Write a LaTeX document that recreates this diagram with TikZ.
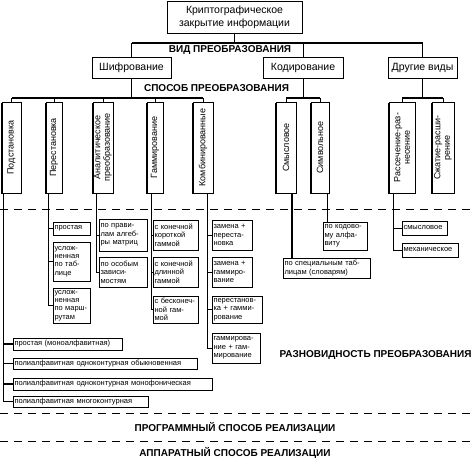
\documentclass[tikz,border=0pt]{standalone}
\usepackage{fontspec}
\setmainfont{Liberation Sans}
\usetikzlibrary{shadows}

\begin{document}
\begin{tikzpicture}[x=1pt,y=-1pt,
  box/.style={draw,fill=white,line width=.7pt,inner sep=1.5pt,
    general shadow={fill=black,shadow xshift=1pt,shadow yshift=-1pt}},
  top/.style={box,font=\fontsize{10.5}{13}\selectfont,align=center},
  kind/.style={box,font=\fontsize{10.5}{12}\selectfont},
  way/.style={draw,fill=white,line width=.7pt,inner sep=1pt,
    general shadow={fill=black,shadow xshift=-1pt,shadow yshift=-1pt},
    rotate=90,font=\fontsize{9}{9.5}\selectfont,align=center,minimum width=91pt},
  var/.style={box,font=\fontsize{7.5}{8.4}\selectfont,align=left,text width=#1},
  head/.style={font=\fontsize{10}{12}\selectfont\bfseries},
  link/.style={line width=.7pt},
  bus/.style={line width=1.6pt},
  sep/.style={line width=.8pt,dash pattern=on 8pt off 6pt}]
\useasboundingbox (0,0) rectangle (476,461);
%%
\draw[sep] (0,209) -- (476,209);
\draw[sep] (0,413) -- (476,413);
\draw[sep] (0,441) -- (476,441);
%% вид преобразования
\node[top,minimum width=135pt,minimum height=32pt] (root) at (234.5,17) {Криптографическое\\закрытие информации};
\node[kind,minimum width=79pt,minimum height=21pt] (shifr) at (131.5,67.5) {Шифрование};
\node[kind,minimum width=80pt,minimum height=21pt] (kod) at (303,67.5) {Кодирование};
\node[kind,minimum width=69pt,minimum height=21pt] (drug) at (422.5,67.5) {Другие виды};
\node[head] (vid) at (230,50) {ВИД ПРЕОБРАЗОВАНИЯ};
\node[head] (sposob) at (216.5,88) {СПОСОБ ПРЕОБРАЗОВАНИЯ};
%% способ преобразования
\node[way,minimum height=19pt] (pod) at (11.5,147.5) {Подстановка};
\node[way,minimum height=16pt] (perest) at (54,147.5) {Перестановка};
\node[way,minimum height=20pt] (analit) at (103,147.5) {Аналитическое\\преобразование};
\node[way,minimum height=16pt] (gamm) at (155,147.5) {Гаммирование};
\node[way,minimum height=20pt] (komb) at (203,147.5) {Комбинированные};
\node[way,minimum height=20pt] (smysl) at (286,147.5) {Смысловое};
\node[way,minimum height=18pt] (simv) at (320,147.5) {Символьное};
\node[way,minimum height=26pt] (rass) at (402,147.5) {Рассечение-раз-\\несение};
\node[way,minimum height=22pt] (szhat) at (443,147.5) {Сжатие-расши-\\рение};
%% разновидность преобразования
\node[var=34pt,minimum height=13pt] (pr1) at (71.5,228.5) {простая};
\node[var=34pt,minimum height=39pt] (pr2) at (71.5,261.5) {услож-\\ненная\\по таб-\\лице};
\node[var=34pt,minimum height=35pt] (pr3) at (71.5,305.5) {услож-\\ненная\\по марш-\\рутам};
\node[var=45pt,minimum height=32pt] (an1) at (123,235) {по прави-\\лам алгеб-\\ры матриц};
\node[var=45pt,minimum height=30pt] (an2) at (123,272) {по особым\\зависи-\\мостям};
\node[var=42pt,minimum height=30pt] (ga1) at (175.5,235) {с конечной\\короткой\\гаммой};
\node[var=42pt,minimum height=30pt] (ga2) at (175.5,272) {с конечной\\длинной\\гаммой};
\node[var=42pt,minimum height=27pt] (ga3) at (175.5,309.5) {с бесконеч-\\ной гам-\\мой};
\node[var=37pt,minimum height=30pt] (ko1) at (232,235) {замена +\\переста-\\новка};
\node[var=37pt,minimum height=30pt] (ko2) at (232,272) {замена +\\гаммиро-\\вание};
\node[var=47pt,minimum height=27pt] (ko3) at (237,309.5) {перестанов-\\ка + гамми-\\рование};
\node[var=45pt,minimum height=30pt] (ko4) at (236,348) {гаммирова-\\ние + гам-\\мирование};
\node[var=106pt,minimum height=12pt] (po1) at (67.5,344) {простая (моноалфавитная)};
\node[var=181pt,minimum height=11pt] (po2) at (105,363.5) {полиалфавитная одноконтурная обыкновенная};
\node[var=196pt,minimum height=12pt] (po3) at (112.5,384) {полиалфавитная одноконтурная монофоническая};
\node[var=132pt,minimum height=11pt] (po4) at (80.5,401.5) {полиалфавитная многоконтурная};
\node[var=84pt,minimum height=20pt] (ss) at (326.5,268) {по специальным таб-\\лицам (словарям)};
\node[var=41pt,minimum height=28pt] (sk) at (345,236) {по кодово-\\му алфа-\\виту};
\node[var=42pt,minimum height=14pt] (r1) at (424.5,228) {смысловое};
\node[var=53pt,minimum height=14pt] (r2) at (430,250) {механическое};
\node[head,anchor=east] (razn) at (475,355) {РАЗНОВИДНОСТЬ ПРЕОБРАЗОВАНИЯ};
\node[head] (prog) at (235,428) {ПРОГРАММНЫЙ СПОСОБ РЕАЛИЗАЦИИ};
\node[head] (appar) at (235,453) {АППАРАТНЫЙ СПОСОБ РЕАЛИЗАЦИИ};
%% connectors
\coordinate (vidbus) at (0,43);
\coordinate (spbus) at (0,98);
\draw[link] (root) -- (root |- vidbus);
\draw[bus] (shifr |- vidbus) -- (drug |- vidbus);
\foreach \n in {shifr,kod,drug} {
  \draw[link] (\n) -- (\n |- vidbus);
  \draw[link] (\n) -- (\n |- spbus);
}
\draw[bus] (pod |- spbus) -- (komb |- spbus);
\draw[bus] (smysl |- spbus) -- (simv |- spbus);
\draw[bus] (rass |- spbus) -- (szhat |- spbus);
\foreach \n in {pod,perest,analit,gamm,komb,smysl,simv,rass,szhat}
  \draw[link] (\n) -- (\n |- spbus);
% rotated boxes: west = bottom side
\coordinate (podT) at ([xshift=-8pt]pod.west);
\coordinate (perT) at ([xshift=-6pt]perest.west);
\coordinate (anT) at ([xshift=-7pt]analit.west);
\coordinate (gaT) at ([xshift=-4pt]gamm.west);
\coordinate (koT) at ([xshift=4pt]komb.west);
\coordinate (smT) at ([xshift=6pt]smysl.west);
\coordinate (siT) at ([xshift=7pt]simv.west);
\coordinate (raT) at ([xshift=-9pt]rass.west);
\foreach \n in {po2,po4} \draw[link] (podT) |- (\n.west);
\foreach \n in {po1,po3} \draw[bus] (podT) |- (\n.west);
\foreach \n in {pr1,pr2,pr3} \draw[link] (perT) |- (\n.west);
\foreach \n in {an1,an2} \draw[link] (anT) |- (\n.west);
\foreach \n in {ga1,ga2,ga3} \draw[link] (gaT) |- (\n.west);
\foreach \n in {ko1,ko2,ko3,ko4} \draw[link] (koT) |- (\n.west);
\draw[bus] (smT) -- (smT |- ss.north);
\draw[link] (siT) -- (siT |- sk.north);
\foreach \n in {r1,r2} \draw[link] (raT) |- (\n.west);
%
\end{tikzpicture}
\end{document}
